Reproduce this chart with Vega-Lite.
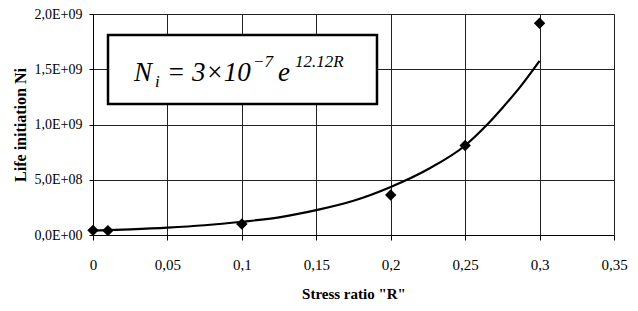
{
  "$schema": "https://vega.github.io/schema/vega-lite/v6.json",
  "width": 521,
  "height": 221,
  "autosize": {"type": "none"},
  "padding": {"left": 93, "top": 14, "right": 24, "bottom": 76},
  "background": "white",
  "config": {
    "font": "Times New Roman, Liberation Serif, serif",
    "view": {"stroke": "#999", "strokeWidth": 1},
    "axis": {
      "labelFont": "Times New Roman, Liberation Serif, serif",
      "titleFont": "Times New Roman, Liberation Serif, serif",
      "labelColor": "black",
      "titleColor": "black",
      "domainColor": "black",
      "tickColor": "black",
      "gridColor": "#222",
      "gridWidth": 1,
      "labelOverlap": false,
      "labelFlush": false
    }
  },
  "datasets": {
    "curve": [
      {"R": 0, "N": 40000000},
      {"R": 0.025, "N": 51000000},
      {"R": 0.05, "N": 66000000},
      {"R": 0.075, "N": 88000000},
      {"R": 0.1, "N": 120000000},
      {"R": 0.125, "N": 160000000},
      {"R": 0.15, "N": 225000000},
      {"R": 0.175, "N": 310000000},
      {"R": 0.2, "N": 435000000},
      {"R": 0.225, "N": 595000000},
      {"R": 0.25, "N": 810000000},
      {"R": 0.2645, "N": 995000000},
      {"R": 0.275, "N": 1150000000},
      {"R": 0.287, "N": 1340000000},
      {"R": 0.3, "N": 1575000000}
    ],
    "points": [
      {"R": 0, "N": 42000000},
      {"R": 0.01, "N": 40000000},
      {"R": 0.1, "N": 100000000},
      {"R": 0.2, "N": 362000000},
      {"R": 0.25, "N": 810000000},
      {"R": 0.3, "N": 1916000000}
    ],
    "box": [
      {"R": 0.01008, "R2": 0.19078, "N": 1810000000, "N2": 1185500000}
    ],
    "bigText": [
      {"label": "N", "R": 0.02754, "N": 1393700000},
      {"label": "= 3×10", "R": 0.04971, "N": 1393700000},
      {"label": "e", "R": 0.12428, "N": 1393700000}
    ],
    "smallText": [
      {"label": "i", "R": 0.04165, "N": 1339400000},
      {"label": "−7", "R": 0.10748, "N": 1520400000},
      {"label": "12.12R", "R": 0.1357, "N": 1520400000}
    ]
  },
  "encoding": {
    "x": {
      "field": "R", "type": "quantitative",
      "scale": {"domain": [0, 0.35], "nice": false, "zero": false},
      "axis": {
        "title": "Stress ratio \"R\"",
        "values": [0, 0.05, 0.1, 0.15, 0.2, 0.25, 0.3, 0.35],
        "labelExpr": "replace(format(datum.value, '~g'), '.', ',')",
        "grid": true,
        "tickSize": 5,
        "labelFontSize": 15,
        "labelPadding": 17,
        "titleFontSize": 15,
        "titleFontWeight": "bold",
        "titlePadding": 14
      }
    },
    "y": {
      "field": "N", "type": "quantitative",
      "scale": {"domain": [0, 2000000000], "nice": false},
      "axis": {
        "title": "Life initiation Ni",
        "values": [0, 500000000, 1000000000, 1500000000, 2000000000],
        "labelExpr": "datum.value == 0 ? '0,0E+00' : replace(format(datum.value / pow(10, floor(log(datum.value) / LN10 + 1e-9)), '.1f'), '.', ',') + 'E+' + (floor(log(datum.value) / LN10 + 1e-9) < 10 ? '0' : '') + floor(log(datum.value) / LN10 + 1e-9)",
        "grid": true,
        "tickSize": 4,
        "labelFontSize": 14,
        "labelPadding": 7,
        "titleFontSize": 16,
        "titleFontWeight": "bold",
        "titlePadding": 6
      }
    }
  },
  "layer": [
    {
      "data": {"name": "curve"},
      "mark": {"type": "line", "color": "black", "strokeWidth": 2.2, "interpolate": "monotone"}
    },
    {
      "data": {"name": "box"},
      "mark": {"type": "rect", "fill": "white", "stroke": "black", "strokeWidth": 2.5},
      "encoding": {
        "x2": {"field": "R2"},
        "y2": {"field": "N2"}
      }
    },
    {
      "data": {"name": "points"},
      "mark": {"type": "point", "shape": "diamond", "filled": true, "color": "black", "opacity": 1, "size": 130}
    },
    {
      "data": {"name": "bigText"},
      "mark": {"type": "text", "font": "Times New Roman, Liberation Serif, serif", "fontStyle": "italic", "fontSize": 27, "align": "left", "baseline": "alphabetic", "color": "black"},
      "encoding": {
        "text": {"field": "label"}
      }
    },
    {
      "data": {"name": "smallText"},
      "mark": {"type": "text", "font": "Times New Roman, Liberation Serif, serif", "fontStyle": "italic", "fontSize": 17, "align": "left", "baseline": "alphabetic", "color": "black"},
      "encoding": {
        "text": {"field": "label"}
      }
    }
  ]
}
